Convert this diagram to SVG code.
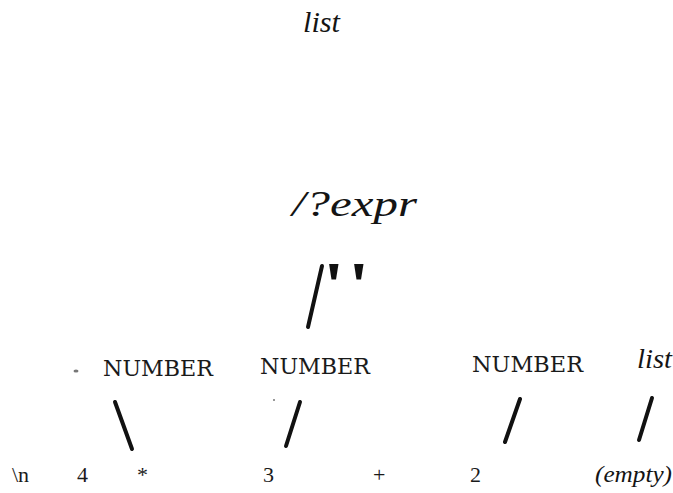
<svg xmlns="http://www.w3.org/2000/svg" width="673" height="493" viewBox="0 0 673 493">
<style>
.it{font-family:"Liberation Serif","Times New Roman",serif;font-style:italic;fill:#141414}
.tm{font-family:"DejaVu Serif","Liberation Serif",serif;font-size:23px;fill:#1a1a1a}
.rm{font-family:"Liberation Serif","Times New Roman",serif;font-size:22px;fill:#1a1a1a}
.edge{stroke:#111;stroke-width:4;stroke-linecap:round;fill:none}
</style>
<rect width="673" height="493" fill="#fff"/>
<g id="node-list-top"><text class="it" x="303" y="32" font-size="29" textLength="37" lengthAdjust="spacingAndGlyphs">list</text></g>
<g id="node-expr"><text class="it" x="292" y="216" font-size="35" textLength="125" lengthAdjust="spacingAndGlyphs">/?expr</text></g>
<g id="node-quote"><text x="326 351" y="303" font-family="Liberation Serif, serif" font-weight="bold" font-size="56" fill="#111" stroke="#111" stroke-width="2">''</text></g>
<g id="node-number1"><text class="tm" x="103" y="376" textLength="110" lengthAdjust="spacingAndGlyphs">NUMBER</text></g>
<g id="node-number2"><text class="tm" x="260" y="374" textLength="110" lengthAdjust="spacingAndGlyphs">NUMBER</text></g>
<g id="node-number3"><text class="tm" x="472" y="372" textLength="111" lengthAdjust="spacingAndGlyphs">NUMBER</text></g>
<g id="node-list-right"><text class="it" x="637" y="368" font-size="28" textLength="35" lengthAdjust="spacingAndGlyphs">list</text></g>
<g id="leaf-nl"><text class="rm" x="12" y="482">\n</text></g>
<g id="leaf-4"><text class="rm" x="77" y="482">4</text></g>
<g id="leaf-star"><text class="rm" x="137" y="482">*</text></g>
<g id="leaf-3"><text class="rm" x="263" y="482">3</text></g>
<g id="leaf-plus"><text class="rm" x="373" y="482">+</text></g>
<g id="leaf-2"><text class="rm" x="470" y="482">2</text></g>
<g id="leaf-empty"><text class="it" x="595" y="482" font-size="24" textLength="77" lengthAdjust="spacingAndGlyphs">(empty)</text></g>
<g id="connectors">
<line class="edge" x1="322" y1="266" x2="308" y2="327" stroke-width="4.5"/>
<line class="edge" x1="115" y1="402" x2="132" y2="449"/>
<line class="edge" x1="300" y1="402" x2="286" y2="446"/>
<line class="edge" x1="520" y1="399" x2="505" y2="442"/>
<line class="edge" x1="652" y1="398" x2="639" y2="440"/>
</g>
<g id="specks" fill="#777">
<ellipse cx="76" cy="371" rx="2.5" ry="1.5"/>
<circle cx="274" cy="400" r="1"/>
</g>
</svg>
